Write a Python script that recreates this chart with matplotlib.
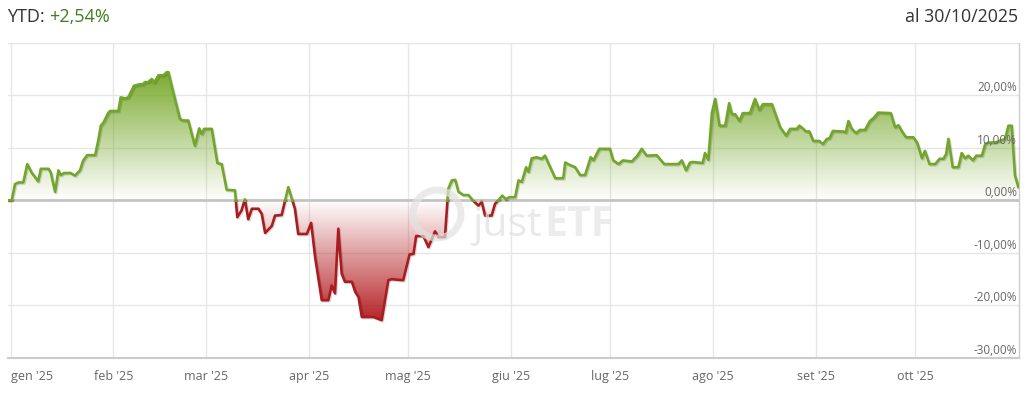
import numpy as np
import matplotlib.pyplot as plt
import matplotlib.patheffects as pe
from matplotlib.patches import Rectangle, PathPatch, Ellipse
from matplotlib.path import Path

plt.rcParams['font.family'] = ['Open Sans', 'DejaVu Sans']

# day of year (0 = 1 Jan 2025) and YTD performance in %
days = [-0.7, 0.3, 1.3, 2.3, 3.8, 5.0, 6.3, 8.3, 9.1, 11.4, 12.1, 13.4, 14.4, 15.1,
        16.1, 18.1, 19.4, 20.9, 21.9, 23.1, 25.5, 26.4, 27.2, 28.0, 29.5, 30.0,
        32.5, 33.2, 34.5, 35.5, 37.2, 39.0, 39.9, 40.5, 41.5, 42.6, 43.3, 44.6,
        46.1, 47.1, 47.6, 49.1, 51.1, 51.9, 53.6, 55.6, 56.9, 57.7, 58.4, 60.7,
        62.4, 63.7, 65.2, 67.7, 68.4, 69.7, 70.7, 71.7, 72.8, 74.8, 75.8, 76.8,
        78.8, 79.8, 81.8, 83.8, 85.8, 86.8, 89.4, 90.7, 91.9, 93.9, 95.9, 96.9,
        97.9, 98.9, 99.9, 100.9, 103.0, 104.0, 105.0, 106.0, 109.5, 112.0, 114.0,
        115.0, 118.5, 120.4, 121.6, 122.4, 124.6, 126.1, 128.1, 129.1, 131.1,
        132.1, 133.2, 134.2, 135.2, 136.7, 138.2, 139.5, 141.2, 142.2, 143.2,
        145.2, 146.2, 147.2, 148.4, 149.5, 150.5, 152.3, 153.3, 154.3, 155.6,
        156.3, 157.3, 158.8, 160.3, 161.3, 164.4, 166.8, 167.4, 168.9, 170.4,
        171.9, 173.4, 175.1, 175.9, 177.7, 180.9, 181.9, 183.5, 184.8, 187.5,
        189.2, 190.5, 192.0, 195.0, 197.3, 201.6, 202.6, 203.9, 205.1, 206.1,
        208.9, 209.6, 210.6, 211.7, 212.7, 214.0, 215.7, 216.9, 217.7, 218.7,
        220.0, 221.0, 223.2, 224.7, 226.0, 227.1, 229.8, 232.3, 234.1, 235.3,
        237.3, 238.1, 239.1, 240.1, 241.1, 242.3, 244.1, 245.2, 246.4, 247.2,
        248.2, 251.4, 252.1, 252.9, 253.9, 255.2, 256.4, 257.9, 259.4, 260.4,
        261.9, 265.7, 267.0, 268.0, 269.3, 270.3, 272.5, 273.7, 275.1, 276.0,
        277.4, 279.1, 280.4, 281.6, 282.4, 283.1, 284.4, 286.1, 287.1, 288.1,
        289.1, 290.5, 291.5, 293.2, 294.2, 295.2, 297.2, 300.2, 301.2, 302.2,
        303.2, 304.2]
perf = [0.0, 0.0, 3.1, 3.4, 3.4, 6.9, 5.3, 3.6, 6.0, 6.0, 5.3, 1.6, 5.7, 4.8,
        5.2, 5.2, 4.7, 5.7, 7.6, 8.6, 8.6, 11.3, 14.2, 14.8, 16.7, 17.0,
        17.0, 19.6, 19.4, 19.6, 21.8, 22.1, 22.1, 22.5, 22.5, 23.1, 22.4, 23.8,
        23.8, 24.4, 24.4, 20.5, 15.5, 15.2, 15.2, 10.4, 13.7, 12.6, 13.6, 13.6,
        7.1, 6.9, 2.0, 1.9, -3.2, -1.9, 0.2, -3.6, -1.6, -1.6, -2.6, -6.2,
        -4.9, -2.9, -2.8, 2.5, -1.6, -6.4, -6.4, -4.3, -10.8, -19.0, -19.0, -16.2,
        -17.7, -5.4, -13.9, -15.5, -15.5, -17.4, -18.4, -22.2, -22.2, -22.8, -15.2,
        -15.0, -15.2, -10.3, -10.2, -6.8, -6.8, -8.9, -5.9, -7.0, -7.0,
        2.2, 3.8, 3.9, 1.6, 1.0, 1.0, 0.0, -1.0, -0.3, -2.9,
        -2.9, -0.7, 0.0, 0.9, 0.2, 0.6, 0.6, 3.8, 3.5, 6.3,
        5.4, 8.0, 8.2, 7.9, 8.5, 4.2, 4.2, 7.2, 6.7, 6.3,
        4.8, 4.8, 8.2, 7.6, 9.8, 9.8, 7.6, 6.9, 7.6, 7.4,
        8.5, 9.8, 8.5, 8.6, 6.9, 6.9, 7.6, 5.7, 7.2, 7.3,
        7.1, 9.0, 7.7, 16.7, 19.3, 14.2, 14.2, 18.5, 16.4, 16.4,
        15.1, 16.6, 16.6, 19.3, 17.2, 18.3, 18.3, 13.9, 12.3, 13.6,
        13.6, 14.2, 13.7, 13.1, 13.1, 11.3, 11.3, 10.7, 11.7, 11.8,
        13.2, 13.1, 12.9, 15.1, 13.6, 12.8, 13.4, 13.4, 15.1, 15.6,
        16.7, 16.6, 13.9, 14.3, 12.9, 12.0, 12.0, 10.9, 8.0, 9.4,
        6.9, 6.9, 7.9, 7.9, 8.8, 11.7, 6.3, 6.3, 9.0, 8.0,
        8.5, 7.6, 8.5, 8.5, 10.7, 11.0, 11.0, 11.7, 14.2, 14.2,
        4.7, 2.54]

month_days = [0, 31, 59, 90, 120, 151, 181, 212, 243, 273]
month_labels = ["gen '25", "feb '25", "mar '25", "apr '25", "mag '25",
                "giu '25", "lug '25", "ago '25", "set '25", "ott '25"]
y_ticks = [-30, -20, -10, 0, 10, 20]
y_labels = ['-30,00%', '-20,00%', '-10,00%', '0,00%', '10,00%', '20,00%']
ytd_label = '+2,54%'
date_label = 'al 30/10/2025'

green = '#72a62a'
red = '#a91c1f'

W, H = 1031, 396
fig = plt.figure(figsize=(W / 100, H / 100), dpi=100)
ax = fig.add_axes([8 / W, 38 / H, 1011 / W, 315.3 / H])
xmin, xmax = -0.82, 304.4
ymin, ymax = -30, 30

# insert zero crossings so the two colours meet cleanly
x = np.array(days, float)
y = np.array(perf, float)
xs, ys = [x[0]], [y[0]]
for i in range(1, len(x)):
    if y[i - 1] * y[i] < 0:
        t = y[i - 1] / (y[i - 1] - y[i])
        xs.append(x[i - 1] + t * (x[i] - x[i - 1]))
        ys.append(0.0)
    xs.append(x[i])
    ys.append(y[i])
xs = np.array(xs)
ys = np.array(ys)


def area_patch(top):
    verts = list(zip(xs, top)) + list(zip(xs[::-1], np.zeros(len(xs))))
    verts.append(verts[0])
    codes = [Path.MOVETO] + [Path.LINETO] * (len(verts) - 2) + [Path.CLOSEPOLY]
    return PathPatch(Path(verts, codes), transform=ax.transData,
                     facecolor='none', edgecolor='none')


def gradient(rgb, a_bottom, a_top, y0, y1, clip):
    n = 256
    img = np.zeros((n, 1, 4))
    img[..., :3] = rgb
    img[:, 0, 3] = np.linspace(a_bottom, a_top, n)
    im = ax.imshow(img, extent=[xmin, xmax, y0, y1], origin='lower',
                   aspect='auto', zorder=1, interpolation='bilinear')
    im.set_clip_path(clip)


gradient((0.45, 0.65, 0.14), 0.0, 0.95, 0, ys.max(), area_patch(np.maximum(ys, 0)))
gradient((0.70, 0.10, 0.11), 0.95, 0.0, ys.min(), 0, area_patch(np.minimum(ys, 0)))

# watermark
fig.text(472 / W, 1 - 236 / H, 'just', va='baseline', ha='left',
         color='#e0e0e0', alpha=0.7, fontsize=29.5, zorder=1.5)
fig.text(544 / W, 1 - 236 / H, 'ETF', fontweight='bold', va='baseline',
         ha='left', color='#e4e4e4', alpha=0.7, fontsize=29.5, zorder=1.5)
ring = Ellipse((437 / W, 1 - 214 / H), 48 / W, 48 / H, transform=fig.transFigure,
               fill=False, edgecolor='#e2e2e2', alpha=0.7, lw=5, zorder=1.5)
fig.add_artist(ring)

shadow = [pe.SimpleLineShadow(offset=(0.8, -0.8), alpha=0.15), pe.Normal()]
lr, = ax.plot(xs, ys, color=red, lw=1.9, zorder=3, solid_joinstyle='round',
              path_effects=shadow)
lr.set_clip_path(Rectangle((xmin, -40), xmax - xmin, 40, transform=ax.transData))
lg, = ax.plot(xs, ys, color=green, lw=1.9, zorder=3, solid_joinstyle='round',
              path_effects=shadow)
lg.set_clip_path(Rectangle((xmin, -0.3), xmax - xmin, 40.3, transform=ax.transData))

ax.axhline(0, color='#c4c4c4', lw=2, zorder=2)

ax.set_xlim(xmin, xmax)
ax.set_ylim(ymin, ymax)
ax.set_yticks(range(-30, 31, 10))
ax.set_xticks(month_days, month_labels)
ax.grid(True, color='#e6e6e6', lw=1, zorder=0)
ax.set_axisbelow(True)
ax.tick_params(axis='y', length=0, labelleft=False)
ax.tick_params(axis='x', length=0, pad=8.5, labelsize=9, labelcolor='#666666')
ax.get_xticklabels()[0].set_ha('left')

for s in ['top', 'left']:
    ax.spines[s].set_visible(False)
ax.spines['right'].set_color('#cccccc')
ax.spines['right'].set_linewidth(1)
ax.spines['bottom'].set_color('#cccccc')
ax.spines['bottom'].set_linewidth(1.5)

for v, lab in zip(y_ticks, y_labels):
    ax.annotate(lab, xy=(1, v), xycoords=('axes fraction', 'data'),
                xytext=(-2, 1), textcoords='offset pixels', ha='right',
                va='bottom', fontsize=8.5, color='#666666', zorder=4)

t1 = fig.text(7 / W, 1 - 22 / H, 'YTD:', fontsize=13, color='#333333',
              va='baseline', ha='left')
fig.text(1018 / W, 1 - 22.5 / H, date_label, fontsize=12.8, color='#333333',
         va='baseline', ha='right')
fig.canvas.draw()
bb = t1.get_window_extent()
fig.text((bb.x1 + 4) / W, 1 - 22 / H, ytd_label, fontsize=13, color='#3f7f1f',
         va='baseline', ha='left')

fig.savefig('out.png', dpi=100)
